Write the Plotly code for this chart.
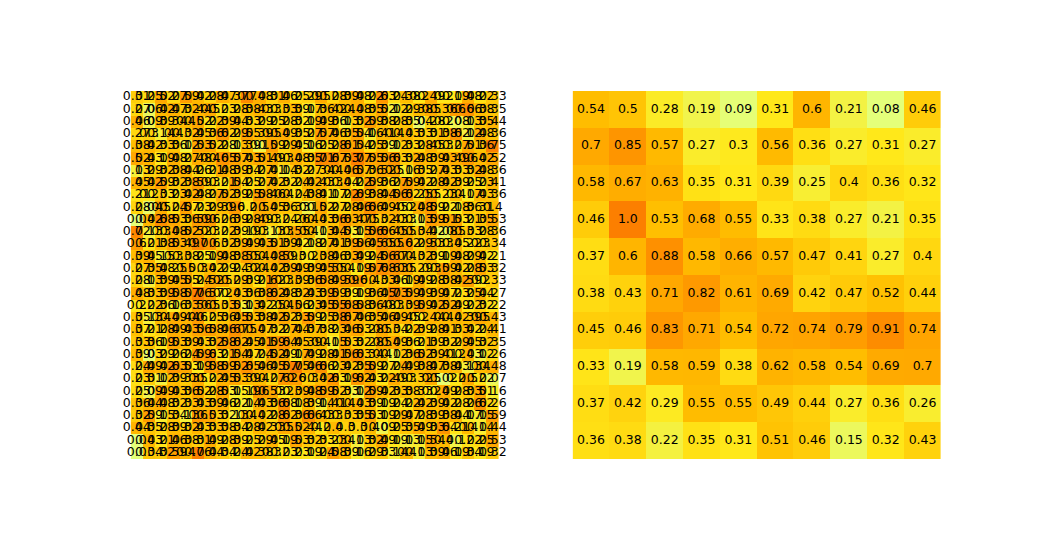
import plotly.graph_objects as go

# Left heatmap: 30 x 30 values
left_rows = [
    [0.31,0.25,0.52,0.27,0.59,0.42,0.28,0.47,0.37,0.7,0.48,0.31,0.46,0.25,0.29,0.5,0.28,0.39,0.48,0.22,0.63,0.24,0.38,0.2,0.49,0.2,0.19,0.48,0.22,0.33],
    [0.27,0.06,0.42,0.47,0.32,0.44,0.5,0.23,0.28,0.38,0.43,0.3,0.33,0.39,0.17,0.36,0.42,0.4,0.48,0.35,0.52,0.12,0.29,0.38,0.5,0.36,0.6,0.66,0.38,0.35],
    [0.46,0.09,0.39,0.34,0.4,0.52,0.22,0.39,0.44,0.33,0.29,0.25,0.28,0.32,0.19,0.49,0.36,0.13,0.32,0.59,0.38,0.28,0.35,0.04,0.28,0.2,0.08,0.13,0.35,0.44],
    [0.27,0.3,0.14,0.4,0.32,0.45,0.36,0.62,0.29,0.55,0.39,0.5,0.49,0.35,0.27,0.57,0.46,0.35,0.54,0.16,0.41,0.4,0.43,0.33,0.31,0.38,0.62,0.12,0.48,0.36],
    [0.38,0.42,0.33,0.36,0.12,0.53,0.52,0.28,0.13,0.39,0.1,0.59,0.29,0.45,0.16,0.25,0.28,0.61,0.54,0.25,0.39,0.12,0.33,0.28,0.45,0.3,0.27,0.51,0.36,0.75],
    [0.52,0.43,0.19,0.48,0.27,0.48,0.4,0.65,0.57,0.43,0.51,0.49,0.3,0.48,0.35,0.71,0.67,0.53,0.77,0.55,0.56,0.63,0.32,0.48,0.39,0.43,0.49,0.6,0.42,0.52],
    [0.13,0.29,0.32,0.38,0.44,0.26,0.21,0.48,0.39,0.34,0.27,0.41,0.14,0.32,0.27,0.34,0.4,0.46,0.57,0.36,0.52,0.5,0.16,0.35,0.27,0.43,0.33,0.32,0.48,0.36],
    [0.45,0.42,0.59,0.32,0.38,0.59,0.3,0.21,0.54,0.25,0.27,0.42,0.32,0.24,0.42,0.43,0.3,0.44,0.22,0.59,0.36,0.27,0.59,0.42,0.28,0.42,0.39,0.25,0.23,0.41],
    [0.21,0.2,0.33,0.23,0.42,0.48,0.27,0.52,0.39,0.25,0.58,0.46,0.4,0.24,0.38,0.41,0.17,0.22,0.69,0.38,0.44,0.56,0.62,0.25,0.5,0.23,0.4,0.17,0.43,0.36],
    [0.28,0.04,0.5,0.24,0.57,0.23,0.29,0.39,0.6,0.2,0.5,0.45,0.36,0.33,0.1,0.52,0.27,0.28,0.46,0.66,0.49,0.45,0.2,0.48,0.59,0.22,0.18,0.36,0.31,0.4],
    [0.0,0.42,0.68,0.53,0.36,0.59,0.6,0.26,0.39,0.28,0.49,0.3,0.24,0.26,0.4,0.43,0.36,0.63,0.47,0.5,0.32,0.43,0.3,0.13,0.59,0.51,0.53,0.21,0.35,0.53],
    [0.72,0.13,0.3,0.48,0.52,0.52,0.3,0.22,0.39,0.19,0.3,0.13,0.3,0.55,0.4,0.13,0.44,0.53,0.15,0.56,0.66,0.45,0.5,0.34,0.42,0.08,0.5,0.33,0.28,0.36],
    [0.6,0.21,0.38,0.53,0.49,0.7,0.6,0.32,0.39,0.49,0.43,0.51,0.39,0.42,0.18,0.27,0.41,0.39,0.56,0.45,0.65,0.5,0.62,0.29,0.53,0.3,0.45,0.22,0.3,0.34],
    [0.39,0.45,0.15,0.3,0.38,0.25,0.19,0.48,0.38,0.55,0.4,0.48,0.59,0.3,0.2,0.38,0.46,0.33,0.49,0.24,0.56,0.67,0.4,0.32,0.39,0.19,0.48,0.29,0.42,0.21],
    [0.27,0.35,0.48,0.25,0.5,0.3,0.42,0.29,0.24,0.32,0.4,0.42,0.39,0.49,0.39,0.45,0.55,0.4,0.19,0.57,0.68,0.63,0.5,0.29,0.3,0.59,0.42,0.28,0.53,0.32],
    [0.28,0.13,0.39,0.45,0.55,0.24,0.52,0.5,0.29,0.39,0.21,0.62,0.3,0.39,0.36,0.58,0.49,0.59,0.6,0.4,0.33,0.46,0.19,0.49,0.28,0.38,0.42,0.59,0.2,0.33],
    [0.48,0.33,0.39,0.58,0.57,0.76,0.57,0.2,0.43,0.36,0.38,0.62,0.48,0.32,0.43,0.39,0.59,0.39,0.19,0.36,0.45,0.73,0.59,0.49,0.39,0.47,0.23,0.25,0.44,0.27],
    [0.2,0.22,0.36,0.16,0.33,0.56,0.5,0.33,0.53,0.13,0.42,0.25,0.4,0.56,0.23,0.45,0.55,0.68,0.58,0.36,0.48,0.3,0.39,0.59,0.42,0.52,0.49,0.22,0.32,0.22],
    [0.35,0.13,0.4,0.49,0.44,0.6,0.25,0.36,0.45,0.53,0.38,0.42,0.52,0.33,0.59,0.25,0.38,0.67,0.46,0.35,0.46,0.49,0.45,0.2,0.44,0.4,0.42,0.39,0.5,0.43],
    [0.37,0.21,0.28,0.49,0.43,0.56,0.58,0.46,0.67,0.5,0.47,0.32,0.27,0.44,0.37,0.38,0.23,0.46,0.53,0.28,0.5,0.34,0.22,0.39,0.28,0.41,0.33,0.42,0.24,0.41],
    [0.33,0.36,0.19,0.53,0.39,0.43,0.32,0.58,0.62,0.45,0.41,0.59,0.64,0.45,0.39,0.4,0.15,0.53,0.32,0.28,0.5,0.49,0.36,0.21,0.39,0.32,0.29,0.45,0.32,0.35],
    [0.39,0.03,0.29,0.26,0.24,0.59,0.63,0.21,0.54,0.47,0.24,0.52,0.49,0.17,0.49,0.28,0.41,0.56,0.63,0.34,0.4,0.12,0.36,0.52,0.39,0.41,0.2,0.43,0.12,0.26],
    [0.24,0.49,0.42,0.63,0.53,0.19,0.58,0.59,0.52,0.65,0.46,0.45,0.57,0.75,0.46,0.66,0.23,0.42,0.35,0.59,0.27,0.24,0.49,0.38,0.47,0.38,0.43,0.13,0.4,0.48],
    [0.23,0.31,0.12,0.39,0.33,0.5,0.22,0.45,0.53,0.39,0.4,0.27,0.62,0.6,0.3,0.42,0.63,0.19,0.62,0.43,0.22,0.49,0.3,0.32,0.5,0.02,0.2,0.5,0.22,0.07],
    [0.25,0.09,0.49,0.43,0.36,0.52,0.28,0.53,0.15,0.19,0.6,0.53,0.2,0.39,0.48,0.59,0.52,0.33,0.12,0.59,0.42,0.33,0.38,0.33,0.2,0.49,0.28,0.33,0.51,0.16],
    [0.36,0.44,0.48,0.32,0.33,0.43,0.39,0.46,0.22,0.14,0.43,0.36,0.68,0.18,0.39,0.14,0.41,0.4,0.43,0.39,0.19,0.24,0.22,0.42,0.39,0.42,0.28,0.26,0.62,0.26],
    [0.32,0.59,0.15,0.34,0.13,0.6,0.53,0.32,0.13,0.4,0.42,0.28,0.62,0.36,0.66,0.43,0.3,0.33,0.35,0.53,0.19,0.29,0.47,0.28,0.39,0.38,0.44,0.17,0.15,0.59],
    [0.44,0.35,0.28,0.39,0.32,0.43,0.33,0.38,0.34,0.28,0.42,0.33,0.5,0.52,0.44,0.2,0.4,0.3,0.3,0.4,0.09,0.25,0.35,0.49,0.33,0.64,0.21,0.4,0.14,0.44],
    [0.0,0.43,0.21,0.46,0.38,0.31,0.49,0.28,0.39,0.25,0.29,0.45,0.19,0.53,0.32,0.33,0.23,0.4,0.13,0.32,0.49,0.19,0.13,0.15,0.54,0.4,0.1,0.22,0.25,0.53],
    [0.0,0.34,0.32,0.59,0.4,0.76,0.44,0.34,0.24,0.42,0.38,0.3,0.23,0.23,0.19,0.24,0.58,0.39,0.16,0.29,0.33,0.14,0.4,0.13,0.39,0.46,0.19,0.34,0.19,0.32],
]

# Right heatmap: 10 x 10 values
right_rows = [
    [0.54,0.5,0.28,0.19,0.09,0.31,0.6,0.21,0.08,0.46],
    [0.7,0.85,0.57,0.27,0.3,0.56,0.36,0.27,0.31,0.27],
    [0.58,0.67,0.63,0.35,0.31,0.39,0.25,0.4,0.36,0.32],
    [0.46,1.0,0.53,0.68,0.55,0.33,0.38,0.27,0.21,0.35],
    [0.37,0.6,0.88,0.58,0.66,0.57,0.47,0.41,0.27,0.4],
    [0.38,0.43,0.71,0.82,0.61,0.69,0.42,0.47,0.52,0.44],
    [0.45,0.46,0.83,0.71,0.54,0.72,0.74,0.79,0.91,0.74],
    [0.33,0.19,0.58,0.59,0.38,0.62,0.58,0.54,0.69,0.7],
    [0.37,0.42,0.29,0.55,0.55,0.49,0.44,0.27,0.36,0.26],
    [0.36,0.38,0.22,0.35,0.31,0.51,0.46,0.15,0.32,0.43],
]

# matplotlib "Wistia" colormap
wistia = [[0.0, "#e4ff7a"], [0.25, "#ffe81a"], [0.5, "#ffbd00"], [0.75, "#ffa000"], [1.0, "#fc7f00"]]

# the page body has an 8px margin; size the figure to fit and shift domains
OFF = 8
W, H = 1045 - 2 * OFF, 545 - 2 * OFF
fig = go.Figure()


def add_panel(rows, xa, ya):
    n_r, n_c = len(rows), len(rows[0])
    fig.add_trace(go.Heatmap(z=rows, colorscale=wistia, showscale=False,
                             xaxis=xa, yaxis=ya, hoverinfo="skip"))
    xs, ys, ts = [], [], []
    for i, r in enumerate(rows):
        for j, v in enumerate(r):
            xs.append(j); ys.append(i); ts.append(str(v))
    fig.add_trace(go.Scatter(x=xs, y=ys, text=ts, mode="text", xaxis=xa, yaxis=ya,
                             textposition="middle center", cliponaxis=False,
                             textfont=dict(family="DejaVu Sans", size=12.5, color="#000000"),
                             hoverinfo="skip", showlegend=False))
    return n_r, n_c


nr1, nc1 = add_panel(left_rows, "x", "y")
nr2, nc2 = add_panel(right_rows, "x2", "y2")


def xd(a, b):
    return [(a - OFF) / W, (b - OFF) / W]


ydom = [1 - (459 - OFF) / H, 1 - (91 - OFF) / H]
fig.update_layout(
    width=W, height=H, margin=dict(l=0, r=0, t=0, b=0),
    paper_bgcolor="white", plot_bgcolor="white", showlegend=False,
    xaxis=dict(domain=xd(130.6, 499.0), range=[-0.5, nc1 - 0.5], visible=False),
    yaxis=dict(domain=ydom, range=[nr1 - 0.5, -0.5], visible=False),
    xaxis2=dict(domain=xd(572.6, 941.0), range=[-0.5, nc2 - 0.5], visible=False),
    yaxis2=dict(domain=ydom, range=[nr2 - 0.5, -0.5], visible=False),
)

fig.write_html("out.html")
